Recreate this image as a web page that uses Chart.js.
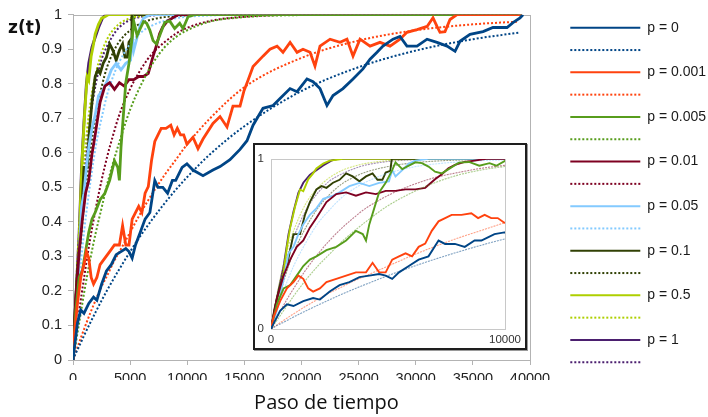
<!DOCTYPE html>
<html><head><meta charset="utf-8">
<script src="https://cdn.jsdelivr.net/npm/chart.js@4.4.1/dist/chart.umd.min.js"></script>
<style>
html,body{margin:0;padding:0;background:#fff;}
#wrap{position:relative;width:708px;height:417px;overflow:hidden;}
#main{position:absolute;left:0;top:0;}
#insetBox{position:absolute;left:253px;top:143px;width:270px;height:203px;border:2px solid #1e1e1e;background:#fff;box-shadow:1px 1px 0 #9a9a9a;}
#inset{display:block;}
</style></head><body>
<div id="wrap">
<canvas id="main" width="708" height="417" style="width:708px;height:417px"></canvas>
<div id="insetBox"><canvas id="inset" width="270" height="203" style="width:270px;height:203px"></canvas></div>
</div>
<script>
// ---- labels / text ----
const seriesLabels = ['p = 0','p = 0.001','p = 0.005','p = 0.01','p = 0.05','p = 0.1','p = 0.5','p = 1'];
const seriesColors = ['#004586','#ff420e','#579d1c','#7e0021','#83caff','#314004','#aecf00','#4b1f6f'];
const yTitle = 'z(t)';
const xTitle = 'Paso de tiempo';

// ---- simulated curves (step, z) ----
const t_p0 = [0,110,390,680,960,1380,1800,2090,2510,2930,3350,3780,4200,4620,4900,5180,5470,5890,6310,6730,7160,7440,7860,8280,8700,8990,9270,9550,9970,10500,11380,12250,12870,13740,14620,15230,15760,16630,17510,18120,19000,19610,20480,21010,21620,22230,22760,23630,24510,25380,26000,26610,27130,28010,28620,29230,30110,30990,31860,32740,33440,33870,34750,35890,36760,37990,38510,39130,39390];
const z_p0 = [0,.032,.107,.145,.135,.164,.182,.173,.22,.258,.276,.305,.314,.323,.314,.295,.333,.37,.408,.427,.52,.50,.50,.483,.52,.52,.539,.558,.568,.55,.534,.55,.56,.58,.61,.635,.68,.729,.737,.757,.786,.777,.814,.806,.786,.737,.766,.786,.814,.843,.871,.891,.909,.929,.937,.909,.909,.929,.92,.909,.894,.923,.943,.951,.963,.963,.977,.991,1];

const t_p0_001 = [0,110,390,680,960,1170,1380,1590,1800,2090,2370,2790,3210,3630,4060,4340,4620,4900,5180,5470,5750,6030,6310,6590,6870,7160,7440,7720,8140,8560,8850,9130,9410,9690,9970,10500,10940,11380,12250,12870,13480,14000,14620,14970,15320,15760,16630,17240,17860,18380,19000,19610,20130,20750,21180,21620,22500,23370,23980,24510,25120,26000,26870,27750,28620,29230,30110,30990,31510,31860,32120,32560,33000,33610,39300];
const z_p0_001 = [0,.07,.164,.239,.276,.314,.295,.239,.22,.239,.276,.295,.314,.333,.333,.389,.333,.333,.408,.427,.445,.427,.483,.502,.577,.633,.652,.671,.671,.68,.652,.671,.652,.652,.625,.645,.612,.64,.685,.705,.675,.735,.735,.78,.81,.85,.88,.9,.909,.891,.92,.891,.9,.891,.851,.909,.929,.92,.929,.88,.929,.909,.92,.909,.929,.949,.957,.966,.991,.966,.949,.951,.986,1,1];

const t_p0_005 = [0,250,540,820,1100,1380,1660,1940,2370,2790,3210,3630,3920,4060,4200,4410,4620,4900,5180,5320,5610,5890,6170,6450,6730,7010,7300,7590,8030,8460,8900,9340,9630,10070,10650,39300];
const z_p0_005 = [0,.145,.239,.258,.314,.37,.408,.427,.464,.483,.52,.577,.558,.52,.615,.709,.803,.859,.934,.98,.94,.96,.98,.975,.955,.925,.915,.94,.978,.982,.96,.975,.96,.994,1,1];

const t_p0_01 = [0,250,540,820,1100,1380,1660,1940,2370,2790,3210,3630,4060,4480,4900,5320,5750,6170,6590,7010,7300,7580,7860,8280,8700,9200,39300];
const z_p0_01 = [0,.18,.314,.408,.483,.52,.596,.652,.746,.793,.803,.784,.803,.793,.812,.812,.821,.821,.83,.88,.91,.945,.965,.982,.99,1,1];

const t_p0_05 = [0,250,540,750,960,1170,1380,1660,1940,2230,2650,2930,3350,3780,4200,4620,5040,5180,5320,5610,5890,6170,6730,39300];
const z_p0_05 = [0,.107,.295,.445,.483,.558,.615,.671,.709,.765,.784,.803,.84,.859,.84,.859,.868,.934,.897,.934,.972,.99,1,1];

const t_p0_1 = [0,150,390,680,960,1240,1450,1660,1940,2160,2370,2650,2930,3210,3490,3780,4060,4340,4550,4760,4900,5100,5160,39300];
const z_p0_1 = [0,.12,.257,.37,.558,.558,.67,.746,.82,.84,.83,.86,.877,.915,.897,.868,.897,.915,.877,.877,.92,.93,1,1];

const t_p0_5 = [0,250,540,680,820,1030,1240,1380,1590,1800,1940,2230,2510,2790,3070,39300];
const z_p0_5 = [0,.145,.333,.483,.596,.72,.82,.81,.88,.915,.944,.972,.99,.994,1,1];

const t_p1 = [0,250,540,750,960,1170,1380,1660,1940,2230,2580,2860,39300];
const z_p1 = [0,.18,.37,.558,.69,.80,.86,.906,.934,.962,.99,1,1];

// ---- fitted (dotted) curves on a shared step grid ----
const tFit = [0,250,500,750,1000,1500,2000,2500,3000,3500,4000,5000,6000,7000,8000,9000,10000,12000,15000,20000,25000,30000,35000,39000];
const fit_p0     = [0,.02,.037,.055,.073,.107,.14,.172,.203,.232,.26,.314,.364,.41,.453,.493,.53,.596,.677,.779,.848,.896,.929,.948];
const fit_p0_001 = [0,.024,.047,.07,.092,.135,.175,.213,.245,.28,.31,.37,.43,.485,.535,.58,.625,.7,.79,.875,.925,.955,.972,.98];
const fit_p0_005 = [0,.05,.1,.15,.2,.29,.37,.44,.51,.57,.625,.725,.8,.86,.905,.935,.955,.98,.993,.999,1,1,1,1];
const fit_p0_01  = [0,.065,.13,.19,.245,.35,.44,.52,.59,.65,.705,.785,.845,.89,.92,.945,.962,.982,.994,1,1,1,1,1];
const fit_p0_05  = [0,.11,.21,.3,.38,.51,.62,.7,.77,.82,.86,.915,.95,.97,.982,.99,.994,.998,1,1,1,1,1,1];
const fit_p0_1   = [0,.14,.26,.37,.46,.6,.71,.79,.85,.89,.92,.955,.976,.987,.993,.996,.998,1,1,1,1,1,1,1];
const fit_p0_5   = [0,.2,.36,.49,.59,.74,.83,.89,.93,.955,.972,.99,.996,1,1,1,1,1,1,1,1,1,1,1];
const fit_p1     = [0,.18,.33,.45,.55,.7,.8,.87,.91,.94,.962,.985,.994,.998,1,1,1,1,1,1,1,1,1,1];

// ---- axis ticks ----
const xTickStep = 5000, xMax = 40000;
const yTickStep = 0.1;
const insetXMax = 10000;

const simT = [t_p0,t_p0_001,t_p0_005,t_p0_01,t_p0_05,t_p0_1,t_p0_5,t_p1];
const simZ = [z_p0,z_p0_001,z_p0_005,z_p0_01,z_p0_05,z_p0_1,z_p0_5,z_p1];
const fitZ = [fit_p0,fit_p0_001,fit_p0_005,fit_p0_01,fit_p0_05,fit_p0_1,fit_p0_5,fit_p1];

function pts(t, z) { return t.map((v, i) => ({ x: v, y: z[i] })); }
function alpha(hex, a) {
  const n = parseInt(hex.slice(1), 16);
  return `rgba(${(n>>16)&255},${(n>>8)&255},${n&255},${a})`;
}
const fmtX = (v) => String(Math.round(v));
const fmtY = (v) => String(Number(v.toFixed(1)));

function buildSets(inset) {
  const sets = [];
  seriesLabels.forEach((lab, i) => {
    sets.push({
      label: lab,
      data: pts(simT[i], simZ[i]),
      borderColor: seriesColors[i],
      backgroundColor: seriesColors[i],
      borderWidth: inset ? 1.9 : 2.8,
      tension: 0,
      pointRadius: 0,
      fill: false
    });
    sets.push({
      label: '',
      data: pts(tFit, fitZ[i]),
      borderColor: inset ? alpha(seriesColors[i], 0.5) : seriesColors[i],
      backgroundColor: seriesColors[i],
      borderWidth: inset ? 1.1 : 2,
      borderDash: inset ? [2, 1] : [2, 2],
      cubicInterpolationMode: 'monotone',
      pointRadius: 0,
      fill: false
    });
  });
  return sets;
}

const frame = (color) => ({
  id: 'frame',
  beforeDatasetsDraw(chart) {
    const a = chart.chartArea, ctx = chart.ctx;
    ctx.save();
    ctx.strokeStyle = color; ctx.lineWidth = 1;
    ctx.strokeRect(Math.round(a.left) + 0.5, Math.round(a.top) + 0.5, Math.round(a.right - a.left), Math.round(a.bottom - a.top));
    ctx.restore();
  }
});

const texts = {
  id: 'texts',
  afterDraw(chart) {
    const ctx = chart.ctx, a = chart.chartArea;
    ctx.save();
    ctx.fillStyle = '#111';
    ctx.textAlign = 'left'; ctx.textBaseline = 'alphabetic';
    ctx.font = "bold 17px 'DejaVu Sans', sans-serif";
    ctx.fillText(yTitle, 8, 33);
    ctx.font = "20px 'Open Sans', sans-serif";
    ctx.textAlign = 'center';
    ctx.fillText(xTitle, (a.left + a.right) / 2 + 25, 409);
    ctx.restore();
  }
};

const tickFont = { family: "'Liberation Sans', Arial, sans-serif", size: 14.5 };
const axisGray = '#b3b3b3';

new Chart(document.getElementById('main'), {
  type: 'line',
  data: { datasets: buildSets(false) },
  options: {
    responsive: false, animation: false, devicePixelRatio: 1,
    layout: { padding: { left: 40, top: 10, right: 0, bottom: 37 } },
    plugins: {
      tooltip: { enabled: false },
      legend: {
        position: 'right',
        maxWidth: 146,
        labels: {
          usePointStyle: true,
          pointStyleWidth: 70,
          padding: 8.3,
          font: { family: "'Liberation Sans', Arial, sans-serif", size: 14 },
          color: '#1a1a1a',
          generateLabels: (chart) => chart.data.datasets.map((ds, i) => ({
            text: ds.label,
            strokeStyle: ds.borderColor,
            fillStyle: ds.borderColor,
            lineWidth: 2,
            lineDash: ds.borderDash || [],
            pointStyle: 'line',
            fontColor: '#1a1a1a',
            hidden: false,
            datasetIndex: i
          }))
        }
      }
    },
    scales: {
      x: {
        type: 'linear', min: 0, max: xMax,
        ticks: { stepSize: xTickStep, color: '#222', font: tickFont, padding: 5, maxRotation: 0, callback: fmtX },
        grid: { display: true, drawOnChartArea: false, drawTicks: true, tickLength: 5, color: axisGray },
        border: { display: true, color: axisGray },
        afterFit: (s) => { s.height = 20; }
      },
      y: {
        min: 0, max: 1,
        ticks: { stepSize: yTickStep, color: '#222', font: tickFont, padding: 6, callback: fmtY },
        grid: { display: true, drawOnChartArea: false, drawTicks: true, tickLength: 5, color: axisGray },
        border: { display: true, color: axisGray },
        afterFit: (s) => { s.width = 33; }
      },
      y2: {
        position: 'right', display: true, min: 0, max: 1,
        grid: { display: false, drawTicks: false },
        border: { display: false },
        ticks: { display: false },
        afterFit: (s) => { s.width = 32; }
      }
    }
  },
  plugins: [frame(axisGray), texts]
});

const insetFont = { family: "'Liberation Sans', Arial, sans-serif", size: 11.5 };
new Chart(document.getElementById('inset'), {
  type: 'line',
  data: { datasets: buildSets(true) },
  options: {
    responsive: false, animation: false, devicePixelRatio: 1,
    layout: { padding: { left: 0, top: 7, right: 18, bottom: 0 } },
    plugins: { legend: { display: false }, tooltip: { enabled: false } },
    scales: {
      x: {
        type: 'linear', min: 0, max: insetXMax,
        ticks: { stepSize: insetXMax, color: '#333', font: insetFont, padding: 4, maxRotation: 0, callback: fmtX },
        grid: { display: false, drawTicks: false },
        border: { display: false },
        afterFit: (s) => { s.height = 19; }
      },
      y: {
        min: 0, max: 1,
        ticks: { stepSize: 1, color: '#333', font: insetFont, padding: 7, callback: fmtY },
        grid: { display: false, drawTicks: false },
        border: { display: false },
        afterFit: (s) => { s.width = 16; }
      }
    }
  },
  plugins: [frame('#c8c8c8')]
});
</script>
</body></html>
